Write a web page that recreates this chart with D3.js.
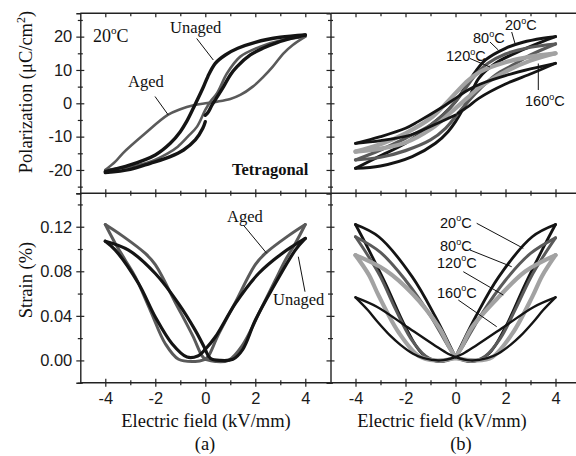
<!DOCTYPE html>
<html><head><meta charset="utf-8">
<script src="https://cdn.jsdelivr.net/npm/d3@7"></script>
<style>html,body{margin:0;padding:0;background:#fff;}svg{display:block;}</style>
</head><body>
<svg id="chart" width="576" height="456"></svg>
<script>
// ---------------- DATA ----------------
// x: electric field (kV/mm)
const xTicksMajor = [-4, -2, 0, 2, 4];
const xTicksMinor = [-3, -1, 1, 3];
const pTicksMajor = [-20, -10, 0, 10, 20];
const pTicksMinor = [-25, -15, -5, 5, 15, 25];
const sTicksMajor = [0.00, 0.04, 0.08, 0.12];
const sTicksMinor = [-0.02, 0.02, 0.06, 0.10, 0.14];

// (a) Polarization, 20°C, unaged (black) — branches [E, P]
const unagedP_down = [[4,20.5],[3,19.8],[2,18.3],[1.3,16.5],[0.8,14.5],[0.4,12],[0.1,8],[-0.1,4.5],[-0.45,-1],[-0.75,-5.5],[-1.0,-8.5],[-1.4,-12],[-2,-15.5],[-3,-18.5],[-4,-20.5]];
const unagedP_upLeft = [[-4,-20.8],[-3,-19.8],[-2.2,-18],[-1.4,-16],[-0.87,-14],[-0.4,-11],[-0.1,-7.5],[0,-5.5]];
const unagedP_upRight = [[0,-3.6],[0.12,-2.6],[0.27,-0.5],[0.5,2.2],[0.73,5],[1.0,8.5],[1.27,11],[1.8,14.5],[2.3,16.5],[2.87,18.2],[3.5,19.6],[4,20.5]];
// (a) Polarization, aged (gray)
const agedP_flat = [[-4,-20],[-3.6,-17.5],[-3.3,-15],[-2.4,-9],[-1.5,-3.5],[-1.0,-1.8],[-0.47,-0.6],[0,0],[0.47,0.5],[1.0,1.3],[1.4,2.5],[1.9,5],[2.33,8],[2.7,11],[3.13,15],[3.5,17.5],[4,20]];
const agedP_steep = [[-4,-20],[-3,-19],[-2.2,-17.5],[-1.5,-15],[-1.1,-13],[-0.7,-10],[-0.33,-7],[0,-2],[0.2,0.5],[0.47,3],[0.87,9],[1.4,14],[2.2,17],[3,18.8],[4,20]];

// (b) Polarization vs temperature
const p20_down = [[4,20],[3.5,19.5],[2.7,18.3],[2,16.5],[1.2,13],[0.8,9.5],[0.4,5],[0,0.5],[-0.5,-3.5],[-1.07,-7],[-2,-12],[-3.07,-16],[-4,-19.5]];
const p20_up = [[-4,-19.5],[-3,-18.8],[-1.73,-16],[-0.8,-12],[-0.3,-8.5],[0,-5.5],[0.53,1.5],[0.93,7.5],[1.6,12],[2.67,16],[3.5,18.6],[4,20]];
const p80_down = [[4,17.8],[3,16.8],[2,14.8],[1.3,12],[0.8,8.5],[0.4,4.5],[0,0.5],[-0.5,-3.5],[-1,-6.5],[-2,-10.5],[-3,-14],[-4,-17]];
const p80_up = [[-4,-17],[-3,-16.2],[-2,-14.2],[-1,-11],[-0.4,-7.5],[0,-4],[0.5,0.5],[1,4.5],[1.6,8.5],[2.3,11.5],[3,14.5],[4,17.8]];
const p120_down = [[4,15],[3,14],[2,12.3],[1,9.5],[0.5,6.8],[0,3],[-0.5,-1],[-1,-4.5],[-2,-9],[-3,-12.3],[-4,-14.5]];
const p120_up = [[-4,-14.5],[-3,-13.6],[-2,-11.8],[-1,-7.8],[-0.5,-4.8],[0,-1.5],[0.5,1.8],[1,5],[2,9.5],[3,12.8],[4,15]];
const p160_down = [[4,12],[3,10.3],[2,8.3],[1,5.8],[0.5,4],[0,1.5],[-0.6,-1.5],[-1.5,-5.5],[-2,-7.5],[-3,-10],[-4,-12]];
const p160_upLeft = [[-4,-12],[-3,-11.2],[-1.8,-9.5],[-0.87,-6.5],[0,-3.5]];
const p160_upRight = [[0.1,-3],[0.5,-1],[0.93,1.5],[2,5.8],[3.07,9],[4,12]];

// (a) Strain, aged (gray) — branches [E, S%]
const agedS_leftInner = [[-4,0.122],[-3.33,0.112],[-2.4,0.096],[-2,0.086],[-1.2,0.052],[-0.5,0.022],[-0.13,0.004],[0,0.001]];
const agedS_leftOuter = [[-4,0.122],[-3.6,0.105],[-3.2,0.09],[-2.8,0.075],[-2.2,0.045],[-1.6,0.015],[-1.07,0.001],[-0.4,-0.001],[0,0.001]];
const agedS_rightInner = [[0,0.001],[0.13,0.004],[0.5,0.022],[1.2,0.052],[2,0.086],[2.4,0.096],[3.33,0.112],[4,0.122]];
const agedS_rightOuter = [[0,0.001],[0.4,-0.001],[0.93,0.0],[1.47,0.013],[2.27,0.048],[2.8,0.072],[3.2,0.09],[3.6,0.105],[4,0.122]];
// (a) Strain, unaged (black)
const unagedS_leftInner = [[-4,0.107],[-3.07,0.099],[-2,0.078],[-1.07,0.051],[-0.4,0.027],[0,0.01]];
const unagedS_leftOuter = [[-4,0.107],[-3.6,0.099],[-2.67,0.069],[-2,0.039],[-1.33,0.015],[-0.73,0.003],[-0.3,0.004],[0,0.01]];
const unagedS_rightInner = [[0,0.01],[0.4,0.021],[1.2,0.051],[2.13,0.078],[3.07,0.096],[4,0.1095]];
const unagedS_rightOuter = [[0,0.01],[0.2,0.002],[0.6,0.0],[1.1,0.001],[1.5,0.01],[2,0.036],[2.8,0.069],[3.6,0.099],[4,0.1095]];

// (b) Strain vs temperature
const s20_leftInner = [[-4,0.122],[-3.07,0.111],[-1.73,0.075],[-0.8,0.039],[-0.13,0.009],[0,0.003]];
const s20_leftOuter = [[-4,0.122],[-3.6,0.105],[-2.8,0.069],[-2,0.03],[-1.33,0.006],[-0.67,-0.001],[0,0.003]];
const s20_rightInner = [[0,0.003],[0.13,0.009],[0.8,0.039],[1.73,0.075],[3.07,0.111],[4,0.122]];
const s20_rightOuter = [[0,0.003],[0.67,-0.001],[1.33,0.006],[2,0.03],[2.8,0.069],[3.6,0.105],[4,0.122]];
const s80_leftInner = [[-4,0.111],[-3,0.097],[-2,0.072],[-1,0.04],[-0.3,0.013],[0,0.003]];
const s80_leftOuter = [[-4,0.111],[-3.5,0.094],[-3,0.075],[-2.4,0.046],[-1.8,0.02],[-1.2,0.004],[-0.6,-0.001],[0,0.003]];
const s80_rightInner = [[0,0.003],[0.3,0.013],[1,0.04],[2,0.072],[3,0.096],[4,0.110]];
const s80_rightOuter = [[0,0.003],[0.6,-0.001],[1.2,0.004],[1.8,0.02],[2.4,0.046],[3,0.074],[3.5,0.093],[4,0.110]];
const s120_leftInner = [[-4,0.0945],[-2.8,0.081],[-1.73,0.06],[-0.67,0.03],[-0.2,0.01],[0,0.003]];
const s120_leftOuter = [[-4,0.0945],[-3.47,0.077],[-3.07,0.058],[-2.27,0.025],[-1.47,0.004],[-0.8,0.0],[0,0.002]];
const s120_rightInner = [[0,0.003],[0.2,0.01],[0.67,0.03],[1.73,0.057],[2.8,0.08],[4,0.0945]];
const s120_rightOuter = [[0,0.002],[0.8,0.0],[1.47,0.003],[2.27,0.024],[3.07,0.057],[3.47,0.076],[4,0.0945]];
const s160_leftInner = [[-4,0.0566],[-3.13,0.048],[-1.93,0.03],[-0.8,0.013],[-0.3,0.006],[0,0.003]];
const s160_leftOuter = [[-4,0.0566],[-3.5,0.045],[-3.13,0.035],[-2.6,0.022],[-2.2,0.014],[-1.7,0.006],[-1.27,0.002],[-0.6,0.0],[0,0.003]];
const s160_rightInner = [[0,0.003],[0.3,0.006],[0.8,0.013],[1.93,0.03],[3.13,0.048],[4,0.0566]];
const s160_rightOuter = [[0,0.003],[0.6,0.0],[1.27,0.002],[1.7,0.006],[2.2,0.014],[2.6,0.022],[3.13,0.035],[3.5,0.045],[4,0.0566]];

// ---------------- DRAWING ----------------
const svg = d3.select("#chart");
const BLACK = "#141414", DGRAY = "#5a5a5a", LGRAY = "#a2a2a2", AXIS = "#222";
const SANS = "'Liberation Sans', Arial, sans-serif";
const SERIF = "'Liberation Serif', 'Times New Roman', serif";

const xL = d3.scaleLinear().domain([-5, 5]).range([80.3, 330.3]);
const xR = d3.scaleLinear().domain([-5, 5]).range([330.5, 580.5]);
const yP = d3.scaleLinear().domain([-27, 27]).range([193.3, 13.3]);
const yS = d3.scaleLinear().domain([-0.02, 0.15]).range([382.7, 193.3]);

function crossTicks(sel, inner, outer) {
  sel.selectAll(".tick line").attr("x1", inner).attr("x2", -outer);
}
function styleAxis(g) {
  g.select(".domain").attr("stroke", AXIS).attr("stroke-width", 1.4);
  g.selectAll(".tick line").attr("stroke", AXIS).attr("stroke-width", 1.2);
  g.selectAll(".tick text").attr("fill", "#1a1a1a").style("font-family", SANS).style("font-size", "16.5px");
}

// vertical axes (left, with labels) and middle (no labels)
function vAxis(scale, xpos, major, minor, fmt, labels) {
  const gM = svg.append("g").attr("transform", `translate(${xpos},0)`)
    .call(d3.axisLeft(scale).tickValues(major).tickSize(4).tickPadding(4).tickFormat(labels ? fmt : () => ""));
  crossTicks(gM, 4, 4); styleAxis(gM);
  const gm = svg.append("g").attr("transform", `translate(${xpos},0)`)
    .call(d3.axisLeft(scale).tickValues(minor).tickSize(2.5).tickFormat(() => ""));
  crossTicks(gm, 2.5, 2.5); styleAxis(gm);
  gm.select(".domain").remove();
}
vAxis(yP, 80.3, pTicksMajor, pTicksMinor, d => String(d), true);
vAxis(yS, 80.3, sTicksMajor, sTicksMinor, d3.format(".2f"), true);
vAxis(yP, 330.5, pTicksMajor, pTicksMinor, null, false);
vAxis(yS, 330.5, sTicksMajor, sTicksMinor, null, false);

// horizontal axes
function hAxis(scale, ypos, labels, innerDir) {
  const gM = svg.append("g").attr("transform", `translate(0,${ypos})`)
    .call(d3.axisBottom(scale).tickValues(xTicksMajor).tickSize(4).tickPadding(6).tickFormat(labels ? d => String(d) : () => ""));
  const gm = svg.append("g").attr("transform", `translate(0,${ypos})`)
    .call(d3.axisBottom(scale).tickValues(xTicksMinor).tickSize(2.5).tickFormat(() => ""));
  if (innerDir === "down") {
    gM.selectAll(".tick line").attr("y1", 0).attr("y2", 4);
    gm.selectAll(".tick line").attr("y1", 0).attr("y2", 3);
  } else {
    gM.selectAll(".tick line").attr("y1", -4).attr("y2", 4);
    gm.selectAll(".tick line").attr("y1", -2.5).attr("y2", 2.5);
  }
  styleAxis(gM); styleAxis(gm);
  gm.select(".domain").remove();
  gM.select(".domain").attr("d", `M${scale.range()[0]},0H${scale.range()[1]}`);
}
hAxis(xL, 13.3, false, "down");
hAxis(xR, 13.3, false, "down");
hAxis(xL, 193.3, false, "cross");
hAxis(xR, 193.3, false, "cross");
hAxis(xL, 382.7, true, "cross");
hAxis(xR, 382.7, true, "cross");

// curves
function curve(data, x, y, color, w) {
  const line = d3.line().x(d => x(d[0])).y(d => y(d[1])).curve(d3.curveCatmullRom.alpha(0.5));
  svg.append("path").datum(data).attr("d", line)
    .attr("fill", "none").attr("stroke", color).attr("stroke-width", w)
    .attr("stroke-linecap", "round").attr("stroke-linejoin", "round");
}
// (a) top
curve(agedP_flat, xL, yP, DGRAY, 2.6);
curve(agedP_steep, xL, yP, DGRAY, 2.6);
curve(unagedP_down, xL, yP, BLACK, 3.4);
curve(unagedP_upLeft, xL, yP, BLACK, 3.4);
curve(unagedP_upRight, xL, yP, BLACK, 3.4);
// (b) top
curve(p20_down, xR, yP, BLACK, 3);
curve(p20_up, xR, yP, BLACK, 3);
curve(p80_down, xR, yP, DGRAY, 3.2);
curve(p80_up, xR, yP, DGRAY, 3.2);
curve(p120_down, xR, yP, LGRAY, 4.2);
curve(p120_up, xR, yP, LGRAY, 4.2);
curve(p160_down, xR, yP, BLACK, 2.8);
curve(p160_upLeft, xR, yP, BLACK, 2.8);
curve(p160_upRight, xR, yP, BLACK, 2.8);
// (a) bottom
[agedS_leftInner, agedS_leftOuter, agedS_rightInner, agedS_rightOuter].forEach(d => curve(d, xL, yS, DGRAY, 3));
[unagedS_leftInner, unagedS_leftOuter, unagedS_rightInner, unagedS_rightOuter].forEach(d => curve(d, xL, yS, BLACK, 3.2));
// (b) bottom
[s20_leftInner, s20_leftOuter, s20_rightInner, s20_rightOuter].forEach(d => curve(d, xR, yS, BLACK, 2.8));
[s80_leftInner, s80_leftOuter, s80_rightInner, s80_rightOuter].forEach(d => curve(d, xR, yS, DGRAY, 3));
[s120_leftInner, s120_leftOuter, s120_rightInner, s120_rightOuter].forEach(d => curve(d, xR, yS, LGRAY, 4.2));
[s160_leftInner, s160_leftOuter, s160_rightInner, s160_rightOuter].forEach(d => curve(d, xR, yS, BLACK, 2.4));

// leader lines
function leader(x1, y1, x2, y2) {
  svg.append("line").attr("x1", x1).attr("y1", y1).attr("x2", x2).attr("y2", y2)
    .attr("stroke", "#111").attr("stroke-width", 1);
}
function label(x, y, txt, family, size, weight, sup) {
  const t = svg.append("text").attr("x", x).attr("y", y).attr("fill", "#111")
    .style("font-family", family).style("font-size", size + "px").style("font-weight", weight || "normal");
  if (sup) {
    t.append("tspan").text(txt);
    t.append("tspan").attr("dy", -size * 0.42).style("font-size", (size * 0.62) + "px").text("o");
    t.append("tspan").attr("dy", size * 0.42).text("C");
  } else t.text(txt);
  return t;
}
// (a) top
label(93, 42, "20", SERIF, 18, "normal", true);
label(170, 33, "Unaged", SERIF, 16.5);
leader(196.7, 38.5, 213.3, 60);
label(128, 87, "Aged", SERIF, 16.5);
leader(155, 96.5, 168.3, 115);
label(232, 175, "Tetragonal", SERIF, 16.5, "bold");
// (b) top
label(505, 30, "20", SANS, 14.5, "normal", true);
leader(511.7, 32, 515, 43.5);
label(473, 43, "80", SANS, 14.5, "normal", true);
leader(490, 42, 498.3, 50);
label(446, 61, "120", SANS, 14.5, "normal", true);
leader(470, 58.5, 490, 67);
label(525, 106, "160", SANS, 14.5, "normal", true);
leader(538.3, 63.5, 538.3, 90);
// (a) bottom
label(227, 221.5, "Aged", SERIF, 16.5);
leader(243.3, 225, 266.7, 253.3);
label(273, 305, "Unaged", SERIF, 16.5);
leader(298.3, 256.7, 305, 291.7);
// (b) bottom
label(440, 227.5, "20", SANS, 14.5, "normal", true);
leader(476.7, 223.3, 523.3, 248.3);
label(440, 251, "80", SANS, 14.5, "normal", true);
leader(470, 250, 511.7, 266.7);
label(437, 267.5, "120", SANS, 14.5, "normal", true);
leader(463.3, 271.7, 503.3, 295);
label(437, 297.5, "160", SANS, 14.5, "normal", true);
leader(458.3, 300, 496.7, 326.7);

// axis titles
const TS = "18.5px";
const yt1 = svg.append("text").attr("transform", "translate(32,92) rotate(-90)").attr("text-anchor", "middle")
  .attr("fill", "#111").style("font-family", SERIF).style("font-size", TS);
yt1.append("tspan").text("Polarization (μC/cm");
yt1.append("tspan").attr("dy", -7).style("font-size", "12px").text("2");
yt1.append("tspan").attr("dy", 7).text(")");
svg.append("text").attr("transform", "translate(32,280) rotate(-90)").attr("text-anchor", "middle")
  .attr("fill", "#111").style("font-family", SERIF).style("font-size", TS).text("Strain (%)");
svg.append("text").attr("x", 206).attr("y", 427).attr("text-anchor", "middle")
  .attr("fill", "#111").style("font-family", SERIF).style("font-size", TS).text("Electric field (kV/mm)");
svg.append("text").attr("x", 442).attr("y", 427).attr("text-anchor", "middle")
  .attr("fill", "#111").style("font-family", SERIF).style("font-size", TS).text("Electric field (kV/mm)");
svg.append("text").attr("x", 205).attr("y", 450).attr("text-anchor", "middle")
  .attr("fill", "#111").style("font-family", SERIF).style("font-size", TS).text("(a)");
svg.append("text").attr("x", 461).attr("y", 450).attr("text-anchor", "middle")
  .attr("fill", "#111").style("font-family", SERIF).style("font-size", TS).text("(b)");
</script>
</body></html>
